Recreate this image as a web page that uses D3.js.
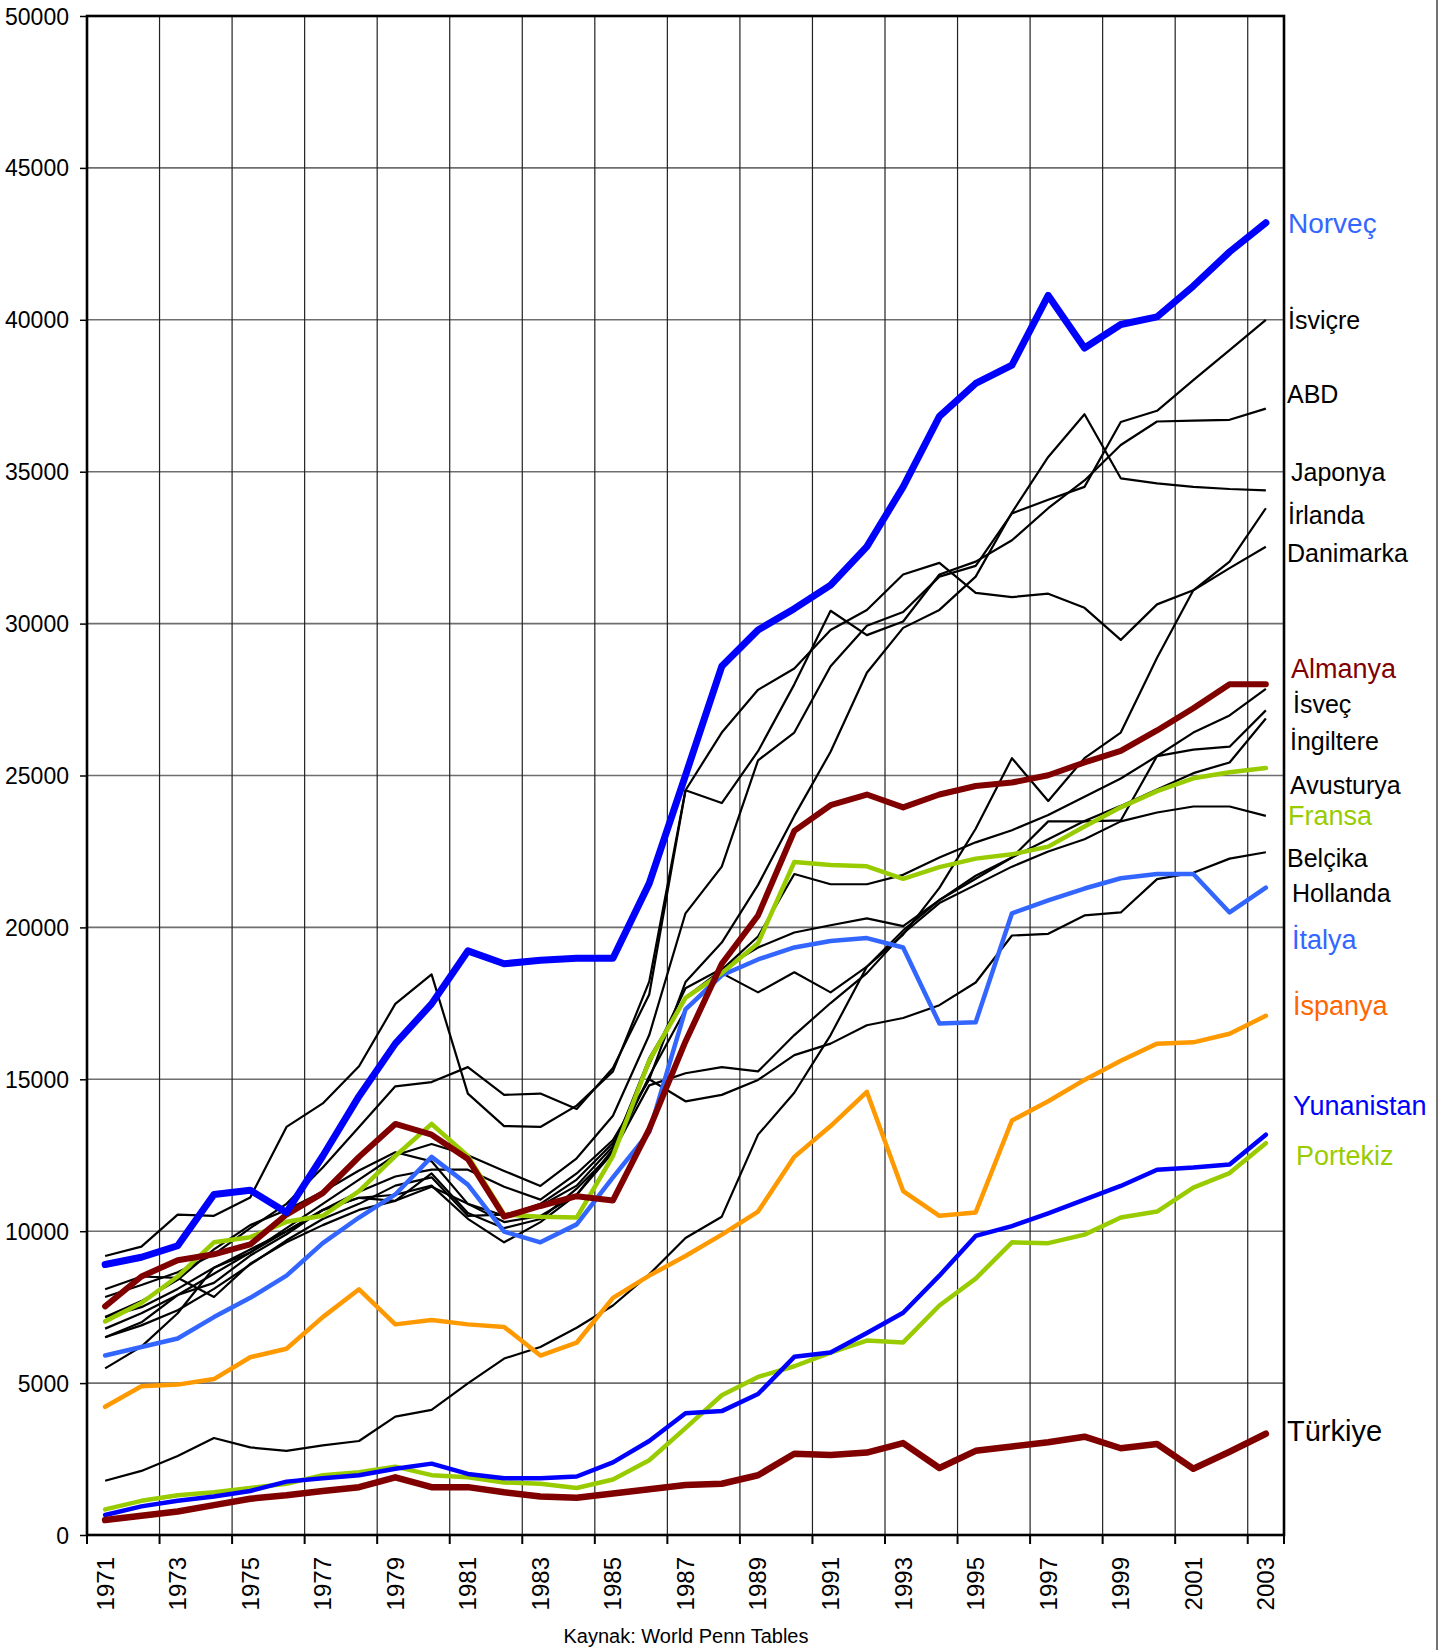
<!DOCTYPE html>
<html><head><meta charset="utf-8">
<script src="https://cdn.jsdelivr.net/npm/d3@7"></script>
<style>body{margin:0;background:#fff}svg{display:block}text{font-family:"Liberation Sans",Arial,sans-serif}</style>
</head><body>
<script>
const years = d3.range(1971, 2004);
const yTicks = [0,5000,10000,15000,20000,25000,30000,35000,40000,45000,50000];
const norvec = [8903,9142,9522,11209,11350,10619,12475,14445,16174,17482,19226,18804,18917,18987,18987,21449,25007,28594,29789,30492,31266,32532,34501,36821,37904,38509,40802,39072,39845,40098,41111,42236,43193];
const almanya = [7524,8509,9043,9240,9563,10548,11252,12447,13530,13178,12377,10478,10830,11153,11013,13361,16245,18804,20394,23178,24022,24374,23950,24374,24655,24768,25007,25429,25808,26483,27215,28003,28003];
const fransa = [7032,7637,8509,9634,9803,10309,10506,11322,12475,13530,12475,10548,10478,10450,12475,15612,17679,18495,19480,22152,22053,22011,21600,21983,22264,22405,22658,23319,23952,24486,24908,25105,25246];
const italya = [5907,6188,6469,7173,7806,8537,9606,10450,11209,12447,11533,9986,9634,10225,11772,13263,17300,18425,18945,19339,19550,19648,19339,16835,16878,20464,20886,21280,21617,21758,21758,20492,21308];
const ispanya = [4219,4894,4950,5133,5850,6131,7172,8087,6933,7074,6933,6849,5907,6329,7806,8537,9184,9887,10647,12447,13460,14585,11322,10506,10619,13643,14276,14980,15612,16174,16217,16498,17089];
const yunanistan = [660,942,1125,1265,1448,1757,1870,1969,2180,2349,2011,1870,1870,1926,2391,3094,4008,4078,4641,5865,6005,6652,7314,8537,9845,10169,10590,11040,11490,12025,12095,12194,13178];
const portekiz = [843,1125,1308,1406,1547,1687,1969,2067,2250,1969,1898,1729,1687,1547,1828,2461,3516,4599,5204,5555,6005,6399,6340,7553,8439,9634,9606,9887,10450,10647,11435,11913,12898];
const turkiye = [492,633,773,984,1195,1308,1448,1575,1900,1575,1575,1406,1265,1223,1364,1504,1645,1687,1968,2672,2630,2714,3024,2207,2770,2911,3052,3235,2855,2995,2180,2742,3333];
const isvicre = [6793,7300,7900,8600,9300,10100,10900,11700,12500,12870,12500,11983,11491,12400,13800,16456,20464,22000,25500,26413,28594,29930,30380,31547,31900,33628,34079,34501,36638,37004,38017,39001,40000];
const abd = [9184,9494,10548,10506,11111,13432,14206,15429,17483,18453,14529,13460,13432,14135,15260,18213,24514,24092,25800,28000,30422,29620,30070,31617,32039,32742,33797,34712,35879,36653,36681,36709,37075];
const japonya = [5485,6200,7300,8800,9400,10000,10700,11300,11800,12025,12025,11463,11040,11900,13000,15000,18200,19500,21400,23670,25780,28383,29859,30450,31547,33657,35485,36892,34782,34613,34501,34430,34388];
const irlanda = [1786,2110,2602,3193,2883,2770,2953,3094,3896,4121,4993,5808,6188,6821,7553,8579,9775,10478,13178,14557,16456,18706,19761,21300,23248,25570,24163,25570,26413,28875,31097,32039,33797];
const danimarka = [7834,8228,8650,9240,10100,10900,12100,13432,14768,14909,15401,14487,14529,14023,15373,17792,24514,26413,27820,28523,29789,30450,31617,32000,31012,30872,30985,30520,29465,30633,31097,31828,32532];
const isvec = [7173,7700,8400,9400,10200,10700,11300,12000,12600,12300,10900,10300,10500,11200,12700,15700,17700,18600,19700,21758,21420,21420,21730,22300,22800,23200,23700,24300,24900,25640,26413,26976,27848];
const ingiltere = [6511,6900,7400,8100,8900,9700,10400,10900,11500,11772,10506,10548,10830,11500,12800,15500,18000,18636,19339,19831,20070,20295,20042,20900,21600,22300,23490,23490,23520,25640,25851,25949,27144];
const avusturya = [6511,7000,7900,8300,9200,9900,10700,11100,11200,11500,10408,9634,10300,11200,12600,15100,17300,18495,17862,18523,17862,18706,19900,20900,21700,22300,22900,23500,24000,24543,25077,25429,26877];
const belcika = [7173,7500,8100,8800,9300,10000,10700,11100,11000,11900,10600,10100,10400,11400,12600,14800,15200,15401,15260,16456,17510,18495,19800,20800,21400,22000,22500,22900,23490,23783,23980,23980,23670];
const hollanda = [8087,8509,8466,7834,8930,9634,10200,10700,11000,11463,10900,10506,10900,11700,12900,15000,14276,14487,14980,15795,16174,16779,17018,17440,18186,19733,19789,20394,20492,21590,21800,22264,22475];

const blackSeries = [isvicre, abd, japonya, irlanda, danimarka, isvec, ingiltere, avusturya, belcika, hollanda];
const colorSeries = [
  {v: portekiz, c: "#99CC00", w: 4.5},
  {v: yunanistan, c: "#0000FF", w: 4.5},
  {v: ispanya, c: "#FF9900", w: 4.5},
  {v: italya, c: "#3366FF", w: 4.5},
  {v: fransa, c: "#99CC00", w: 4.5},
  {v: almanya, c: "#800000", w: 6},
  {v: turkiye, c: "#800000", w: 6.5},
  {v: norvec, c: "#0000FF", w: 7}
];
const labels = [
  {t:"Norveç", c:"#3366FF", s:28, x:1288, y:223},
  {t:"İsviçre", c:"#000", s:25, x:1288, y:320},
  {t:"ABD", c:"#000", s:25, x:1287, y:394},
  {t:"Japonya", c:"#000", s:25, x:1291, y:472},
  {t:"İrlanda", c:"#000", s:25, x:1288, y:515},
  {t:"Danimarka", c:"#000", s:25, x:1287, y:553},
  {t:"Almanya", c:"#800000", s:27, x:1291, y:668},
  {t:"İsveç", c:"#000", s:25, x:1293, y:704},
  {t:"İngiltere", c:"#000", s:25, x:1290, y:741},
  {t:"Avusturya", c:"#000", s:25, x:1290, y:785},
  {t:"Fransa", c:"#99CC00", s:27, x:1288, y:815},
  {t:"Belçika", c:"#000", s:25, x:1287, y:858},
  {t:"Hollanda", c:"#000", s:25, x:1292, y:893},
  {t:"İtalya", c:"#3366FF", s:27, x:1292, y:939},
  {t:"İspanya", c:"#FF6600", s:27, x:1293, y:1005},
  {t:"Yunanistan", c:"#0000FF", s:27, x:1293, y:1105},
  {t:"Portekiz", c:"#99CC00", s:27, x:1296, y:1155},
  {t:"Türkiye", c:"#000", s:29, x:1287, y:1431}
];

const W = 1448, H = 1650;
const L = 87, R = 1284, T = 16, B = 1535;
const svg = d3.select("body").append("svg").attr("width", W).attr("height", H);
const x = d3.scaleBand().domain(years).range([L, R]).padding(0);
const y = d3.scaleLinear().domain([0, 50000]).range([B, T]);
const cx = d => x(d) + x.bandwidth()/2;

svg.append("g").selectAll("line").data(yTicks.slice(1, -1)).join("line")
  .attr("x1", L).attr("x2", R).attr("y1", d => y(d)).attr("y2", d => y(d))
  .attr("stroke", "#6e6e6e").attr("stroke-width", 1.6);
const bounds = years.filter((d, i) => i % 2 === 0 && i > 0);
svg.append("g").selectAll("line").data(bounds).join("line")
  .attr("x1", d => x(d)).attr("x2", d => x(d)).attr("y1", T).attr("y2", B)
  .attr("stroke", "#222").attr("stroke-width", 1.2);

const yAxis = d3.axisLeft(y).tickValues(yTicks).tickSize(7).tickFormat(d3.format("d"));
const gy = svg.append("g").attr("transform", `translate(${L},0)`).call(yAxis);
gy.select(".domain").remove();
gy.selectAll(".tick line").attr("stroke", "#000").attr("stroke-width", 1.5);
gy.selectAll(".tick text").attr("font-size", 23).attr("fill", "#000").attr("x", -18).attr("dy", "0.35em");

const xAxis = d3.axisBottom(x).tickValues(years.filter((d, i) => i % 2 === 0)).tickSize(0);
const gx = svg.append("g").attr("transform", `translate(0,${B})`).call(xAxis);
gx.select(".domain").remove();
gx.selectAll(".tick text").attr("font-size", 24).attr("fill", "#000")
  .attr("transform", "rotate(-90)").attr("text-anchor", "end")
  .attr("x", -22).attr("y", 0).attr("dy", "0.35em");
svg.append("g").selectAll("line").data(years.filter((d, i) => i % 2 === 0)).join("line")
  .attr("x1", d => x(d)).attr("x2", d => x(d)).attr("y1", B).attr("y2", B + 9)
  .attr("stroke", "#000").attr("stroke-width", 2);
svg.append("line").attr("x1", R).attr("x2", R).attr("y1", B).attr("y2", B + 9).attr("stroke", "#000").attr("stroke-width", 2);

const line = d3.line().x((d, i) => cx(years[i])).y(d => y(d));
svg.append("g").selectAll("path").data(blackSeries).join("path")
  .attr("d", line).attr("fill", "none").attr("stroke", "#000").attr("stroke-width", 2.2)
  .attr("stroke-linejoin", "round");
svg.append("g").selectAll("path").data(colorSeries).join("path")
  .attr("d", d => line(d.v)).attr("fill", "none").attr("stroke", d => d.c).attr("stroke-width", d => d.w)
  .attr("stroke-linejoin", "round").attr("stroke-linecap", "round");

svg.append("rect").attr("x", L).attr("y", T).attr("width", R - L).attr("height", B - T)
  .attr("fill", "none").attr("stroke", "#000").attr("stroke-width", 2.6);

svg.append("g").selectAll("text").data(labels).join("text")
  .attr("x", d => d.x).attr("y", d => d.y).attr("dy", "0.36em")
  .attr("font-size", d => d.s).attr("fill", d => d.c).text(d => d.t);

svg.append("text").attr("x", 686).attr("y", 1643).attr("text-anchor", "middle")
  .attr("font-size", 20).attr("fill", "#000").text("Kaynak: World Penn Tables");

svg.append("line").attr("x1", 1437).attr("x2", 1437).attr("y1", 0).attr("y2", H)
  .attr("stroke", "#444").attr("stroke-width", 1.5);
</script>
</body></html>
